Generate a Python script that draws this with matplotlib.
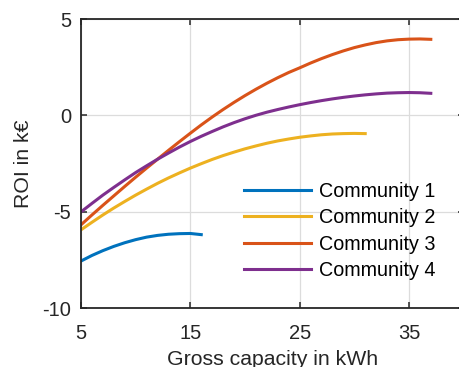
import numpy as np
import matplotlib.pyplot as plt

plt.rcParams['font.family'] = ['Liberation Sans', 'DejaVu Sans']
plt.rcParams['axes.unicode_minus'] = False

# ROI curves per community (k€) over gross battery capacity (kWh)
cap1 = list(range(5, 17))
roi1 = [-7.55, -7.26, -7.01, -6.79, -6.60, -6.44, -6.31, -6.22, -6.16, -6.13, -6.12, -6.18]

cap2 = list(range(5, 32))
roi2 = [-5.93, -5.54, -5.16, -4.80, -4.46, -4.13, -3.82, -3.52, -3.24, -2.98,
        -2.73, -2.50, -2.28, -2.08, -1.90, -1.73, -1.58, -1.44, -1.32, -1.22,
        -1.13, -1.06, -1.00, -0.96, -0.94, -0.93, -0.94]

cap3 = list(range(5, 38))
roi3 = [-5.67, -5.16, -4.66, -4.17, -3.68, -3.20, -2.73, -2.27, -1.81, -1.36,
        -0.92, -0.49, -0.08, 0.31, 0.68, 1.03, 1.36, 1.67, 1.96, 2.23,
        2.47, 2.72, 2.95, 3.16, 3.35, 3.52, 3.66, 3.78, 3.87, 3.93,
        3.96, 3.97, 3.95]

cap4 = list(range(5, 38))
roi4 = [-5.00, -4.56, -4.13, -3.73, -3.34, -2.96, -2.61, -2.27, -1.95, -1.64,
        -1.35, -1.08, -0.83, -0.59, -0.37, -0.17, 0.01, 0.17, 0.31, 0.44,
        0.56, 0.67, 0.77, 0.86, 0.94, 1.01, 1.07, 1.12, 1.16, 1.18,
        1.19, 1.18, 1.15]

names = ['Community 1', 'Community 2', 'Community 3', 'Community 4']
colors = ['#0072BD', '#EDB120', '#D95319', '#7E2F8E']
xticks = [5, 15, 25, 35]
yticks = [-10, -5, 0, 5]

fig = plt.figure(figsize=(4.59, 3.67), dpi=100)
ax = fig.add_axes([0.1765, 0.16, 0.8335, 0.788])

for x, y, n, c in zip([cap1, cap2, cap3, cap4], [roi1, roi2, roi3, roi4], names, colors):
    ax.plot(x, y, color=c, lw=2.2, label=n)

ax.set_xlim(5, 40)
ax.set_ylim(-10, 5)
ax.set_xticks(xticks)
ax.set_yticks(yticks)
ax.grid(True, color='#dcdcdc', lw=0.9)
ax.set_axisbelow(True)
ax.tick_params(direction='in', length=4, width=1.1, top=True, right=True,
               labelsize=14.5, colors='#262626')
ax.tick_params(axis='x', pad=11)
ax.tick_params(axis='y', pad=7)
for s in ax.spines.values():
    s.set_linewidth(1.3)
    s.set_color('#262626')

ax.set_xlabel('Gross capacity in kWh', fontsize=15.3, color='#262626', labelpad=5)
ax.set_ylabel('ROI in k€', fontsize=15.3, color='#262626', labelpad=7)

ax.legend(loc='upper left', bbox_to_anchor=(0.425, 0.437), frameon=False,
          fontsize=14.2, handlelength=3.4, handletextpad=0.4, labelspacing=0.38,
          borderpad=0, borderaxespad=0)

fig.savefig('out.png', dpi=100)
